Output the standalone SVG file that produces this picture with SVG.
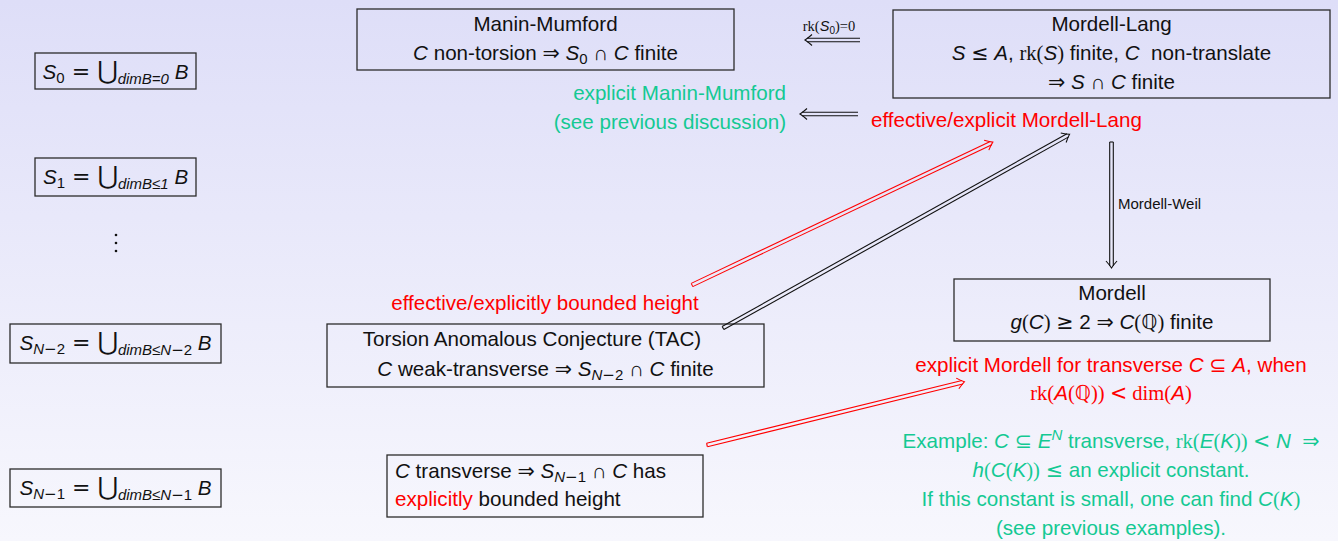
<svg xmlns="http://www.w3.org/2000/svg" width="1338" height="541" viewBox="0 0 1338 541">
<defs>
<linearGradient id="bg" x1="0" y1="0" x2="0" y2="1">
<stop offset="0" stop-color="#dedef8"/>
<stop offset="1" stop-color="#f7f7fd"/>
</linearGradient>
</defs>
<style>
.t{font-family:"Liberation Sans","DejaVu Sans",sans-serif;font-size:20.6px;fill:#111;white-space:pre}
.i{font-style:italic}
.s{font-family:"Liberation Serif","DejaVu Serif",serif;font-style:normal}
.u{font-family:"DejaVu Sans",sans-serif;font-size:25px;font-style:normal}
.e{font-family:"DejaVu Sans",sans-serif;font-size:22px;font-style:normal}
.m{font-family:"DejaVu Sans",sans-serif;font-style:normal}
.sub{font-size:15px}
.red{fill:#ff0000}
.grn{fill:#14c993}
.box{fill:none;stroke:#2b2b2b;stroke-width:1.3}
.ar line,.ar path{fill:none;stroke-width:1.1;stroke-linecap:butt}
.k line,.k path{stroke:#111}
.r line,.r path{stroke:#ff0000}
</style>
<rect width="1338" height="541" fill="url(#bg)"/>

<g id="s0">
<rect class="box" x="35" y="53" width="161" height="36"/>
<text class="t" x="115.5" y="79" text-anchor="middle"><tspan class="i">S</tspan><tspan class="sub" dy="4">0</tspan><tspan class="e" dy="-4"> = </tspan><tspan class="u">⋃</tspan><tspan class="sub i" dy="5">dimB=0</tspan><tspan class="i" dy="-5"> B</tspan></text>
</g>
<g id="s1">
<rect class="box" x="35" y="158" width="161" height="38"/>
<text class="t" x="115.5" y="184" text-anchor="middle"><tspan class="i">S</tspan><tspan class="sub" dy="4">1</tspan><tspan class="e" dy="-4"> = </tspan><tspan class="u">⋃</tspan><tspan class="sub i" dy="5">dimB≤1</tspan><tspan class="i" dy="-5"> B</tspan></text>
</g>
<g id="vdots" fill="#111">
<circle cx="116" cy="235" r="1.3"/>
<circle cx="116" cy="243" r="1.3"/>
<circle cx="116" cy="251" r="1.3"/>
</g>
<g id="sn2">
<rect class="box" x="10" y="324" width="211" height="39"/>
<text class="t" x="115.5" y="350" text-anchor="middle"><tspan class="i">S</tspan><tspan class="sub i" dy="4">N</tspan><tspan class="sub m">−</tspan><tspan class="sub">2</tspan><tspan class="e" dy="-4"> = </tspan><tspan class="u">⋃</tspan><tspan class="sub i" dy="5">dimB≤N</tspan><tspan class="sub m">−</tspan><tspan class="sub">2</tspan><tspan class="i" dy="-5"> B</tspan></text>
</g>
<g id="sn1">
<rect class="box" x="10" y="469" width="211" height="38"/>
<text class="t" x="115.5" y="495" text-anchor="middle"><tspan class="i">S</tspan><tspan class="sub i" dy="4">N</tspan><tspan class="sub m">−</tspan><tspan class="sub">1</tspan><tspan class="e" dy="-4"> = </tspan><tspan class="u">⋃</tspan><tspan class="sub i" dy="5">dimB≤N</tspan><tspan class="sub m">−</tspan><tspan class="sub">1</tspan><tspan class="i" dy="-5"> B</tspan></text>
</g>

<g id="manin-mumford">
<rect class="box" x="357" y="9" width="377" height="61"/>
<text class="t" x="545.5" y="31" text-anchor="middle">Manin-Mumford</text>
<text class="t" x="545.5" y="60" text-anchor="middle"><tspan class="i">C</tspan> non-torsion <tspan class="m">⇒</tspan> <tspan class="i">S</tspan><tspan class="sub" dy="4">0</tspan><tspan dy="-4"> ∩ </tspan><tspan class="i">C</tspan> finite</text>
</g>

<g id="mordell-lang">
<rect class="box" x="893" y="10" width="437" height="88"/>
<text class="t" x="1111.5" y="31" text-anchor="middle">Mordell-Lang</text>
<text class="t" x="1111.5" y="60" text-anchor="middle"><tspan class="i">S</tspan> <tspan class="m">≤</tspan> <tspan class="i">A</tspan>, <tspan class="s">rk(</tspan><tspan class="i">S</tspan><tspan class="s">)</tspan> finite, <tspan class="i">C</tspan>  non-translate</text>
<text class="t" x="1111.5" y="89" text-anchor="middle"><tspan class="m">⇒</tspan> <tspan class="i">S</tspan> ∩ <tspan class="i">C</tspan> finite</text>
</g>

<g id="rk-label">
<text class="t" x="829" y="31" text-anchor="middle" style="font-size:14.5px"><tspan class="s">rk(</tspan><tspan class="i">S</tspan><tspan dy="3" style="font-size:10px">0</tspan><tspan class="s" dy="-3">)=0</tspan></text>
</g>

<g id="explicit-mm">
<text class="t grn" x="786" y="100" text-anchor="end">explicit Manin-Mumford</text>
<text class="t grn" x="786" y="129" text-anchor="end">(see previous discussion)</text>
</g>

<g id="effective-ml">
<text class="t red" x="871" y="127">effective/explicit Mordell-Lang</text>
</g>

<g id="mordell-weil-label">
<text class="t" x="1118" y="209" style="font-size:15px">Mordell-Weil</text>
</g>

<g id="mordell">
<rect class="box" x="954" y="279" width="316" height="62"/>
<text class="t" x="1112" y="300" text-anchor="middle">Mordell</text>
<text class="t" x="1112" y="329" text-anchor="middle"><tspan class="i">g</tspan><tspan class="s">(</tspan><tspan class="i">C</tspan><tspan class="s">)</tspan> <tspan class="m">≥</tspan> 2 <tspan class="m">⇒</tspan> <tspan class="i">C</tspan><tspan class="s">(</tspan><tspan class="m">ℚ</tspan><tspan class="s">)</tspan> finite</text>
</g>

<g id="explicit-mordell">
<text class="t red" x="1111" y="372" text-anchor="middle">explicit Mordell for transverse <tspan class="i">C</tspan> <tspan class="m">⊆</tspan> <tspan class="i">A</tspan>, when</text>
<text class="t red" x="1111" y="400" text-anchor="middle"><tspan class="s">rk(</tspan><tspan class="i">A</tspan><tspan class="s">(</tspan><tspan class="m">ℚ</tspan><tspan class="s">)) </tspan><tspan class="m">&lt;</tspan><tspan class="s"> dim(</tspan><tspan class="i">A</tspan><tspan class="s">)</tspan></text>
</g>

<g id="example">
<text class="t grn" x="1111" y="448" text-anchor="middle">Example: <tspan class="i">C</tspan> <tspan class="m">⊆</tspan> <tspan class="i">E</tspan><tspan class="sub i" dy="-8">N</tspan><tspan dy="8"> transverse, </tspan><tspan class="s">rk(</tspan><tspan class="i">E</tspan><tspan class="s">(</tspan><tspan class="i">K</tspan><tspan class="s">)) </tspan><tspan class="m">&lt;</tspan> <tspan class="i">N</tspan>  <tspan class="m">⇒</tspan></text>
<text class="t grn" x="1111" y="477" text-anchor="middle"><tspan class="i">h</tspan><tspan class="s">(</tspan><tspan class="i">C</tspan><tspan class="s">(</tspan><tspan class="i">K</tspan><tspan class="s">))</tspan> <tspan class="m">≤</tspan> an explicit constant.</text>
<text class="t grn" x="1111" y="506" text-anchor="middle">If this constant is small, one can find <tspan class="i">C</tspan><tspan class="s">(</tspan><tspan class="i">K</tspan><tspan class="s">)</tspan></text>
<text class="t grn" x="1111" y="535" text-anchor="middle">(see previous examples).</text>
</g>

<g id="bounded-label">
<text class="t red" x="545" y="310" text-anchor="middle">effective/explicitly bounded height</text>
</g>

<g id="tac">
<rect class="box" x="327" y="324" width="437" height="63"/>
<text class="t" x="532" y="346" text-anchor="middle">Torsion Anomalous Conjecture (TAC)</text>
<text class="t" x="545.5" y="376" text-anchor="middle"><tspan class="i">C</tspan> weak-transverse <tspan class="m">⇒</tspan> <tspan class="i">S</tspan><tspan class="sub i" dy="4">N</tspan><tspan class="sub m">−</tspan><tspan class="sub">2</tspan><tspan dy="-4"> ∩ </tspan><tspan class="i">C</tspan> finite</text>
</g>

<g id="transverse">
<rect class="box" x="387" y="455" width="316" height="62"/>
<text class="t" x="395" y="478"><tspan class="i">C</tspan> transverse <tspan class="m">⇒</tspan> <tspan class="i">S</tspan><tspan class="sub i" dy="4">N</tspan><tspan class="sub m">−</tspan><tspan class="sub">1</tspan><tspan dy="-4"> ∩ </tspan><tspan class="i">C</tspan> has</text>
<text class="t" x="395" y="506"><tspan class="red">explicitly</tspan> bounded height</text>
</g>

<g id="connectors">
<g class="ar k" transform="translate(860 40) rotate(180)">
<line x1="0" y1="-1.8" x2="53" y2="-1.8"/><line x1="0" y1="1.8" x2="53" y2="1.8"/>
<path d="M48,-5.5 Q52.5,-1.5 55,0 Q52.5,1.5 48,5.5"/>
</g>
<g class="ar k" transform="translate(858 114) rotate(180)">
<line x1="0" y1="-1.8" x2="56" y2="-1.8"/><line x1="0" y1="1.8" x2="56" y2="1.8"/>
<path d="M51,-5.5 Q55.5,-1.5 58,0 Q55.5,1.5 51,5.5"/>
</g>
<g class="ar r" transform="translate(692 285) rotate(-25.4)">
<line x1="0" y1="-1.8" x2="331" y2="-1.8"/><line x1="0" y1="1.8" x2="331" y2="1.8"/><line x1="0" y1="-1.8" x2="0" y2="1.8"/>
<path d="M326,-5.5 Q330.5,-1.5 333,0 Q330.5,1.5 326,5.5"/>
</g>
<g class="ar k" transform="translate(723 328) rotate(-29.2)">
<line x1="0" y1="-1.8" x2="395" y2="-1.8"/><line x1="0" y1="1.8" x2="395" y2="1.8"/><line x1="0" y1="-1.8" x2="0" y2="1.8"/>
<path d="M390,-5.5 Q394.5,-1.5 397,0 Q394.5,1.5 390,5.5"/>
</g>
<g class="ar k" transform="translate(1111.5 142) rotate(90)">
<line x1="0" y1="-1.8" x2="124" y2="-1.8"/><line x1="0" y1="1.8" x2="124" y2="1.8"/><line x1="0" y1="-1.8" x2="0" y2="1.8"/>
<path d="M119,-5.5 Q123.5,-1.5 126,0 Q123.5,1.5 119,5.5"/>
</g>
<g class="ar r" transform="translate(707 445) rotate(-13.8)">
<line x1="0" y1="-1.8" x2="263" y2="-1.8"/><line x1="0" y1="1.8" x2="263" y2="1.8"/><line x1="0" y1="-1.8" x2="0" y2="1.8"/>
<path d="M258,-5.5 Q262.5,-1.5 265,0 Q262.5,1.5 258,5.5"/>
</g>
</g>
</svg>
